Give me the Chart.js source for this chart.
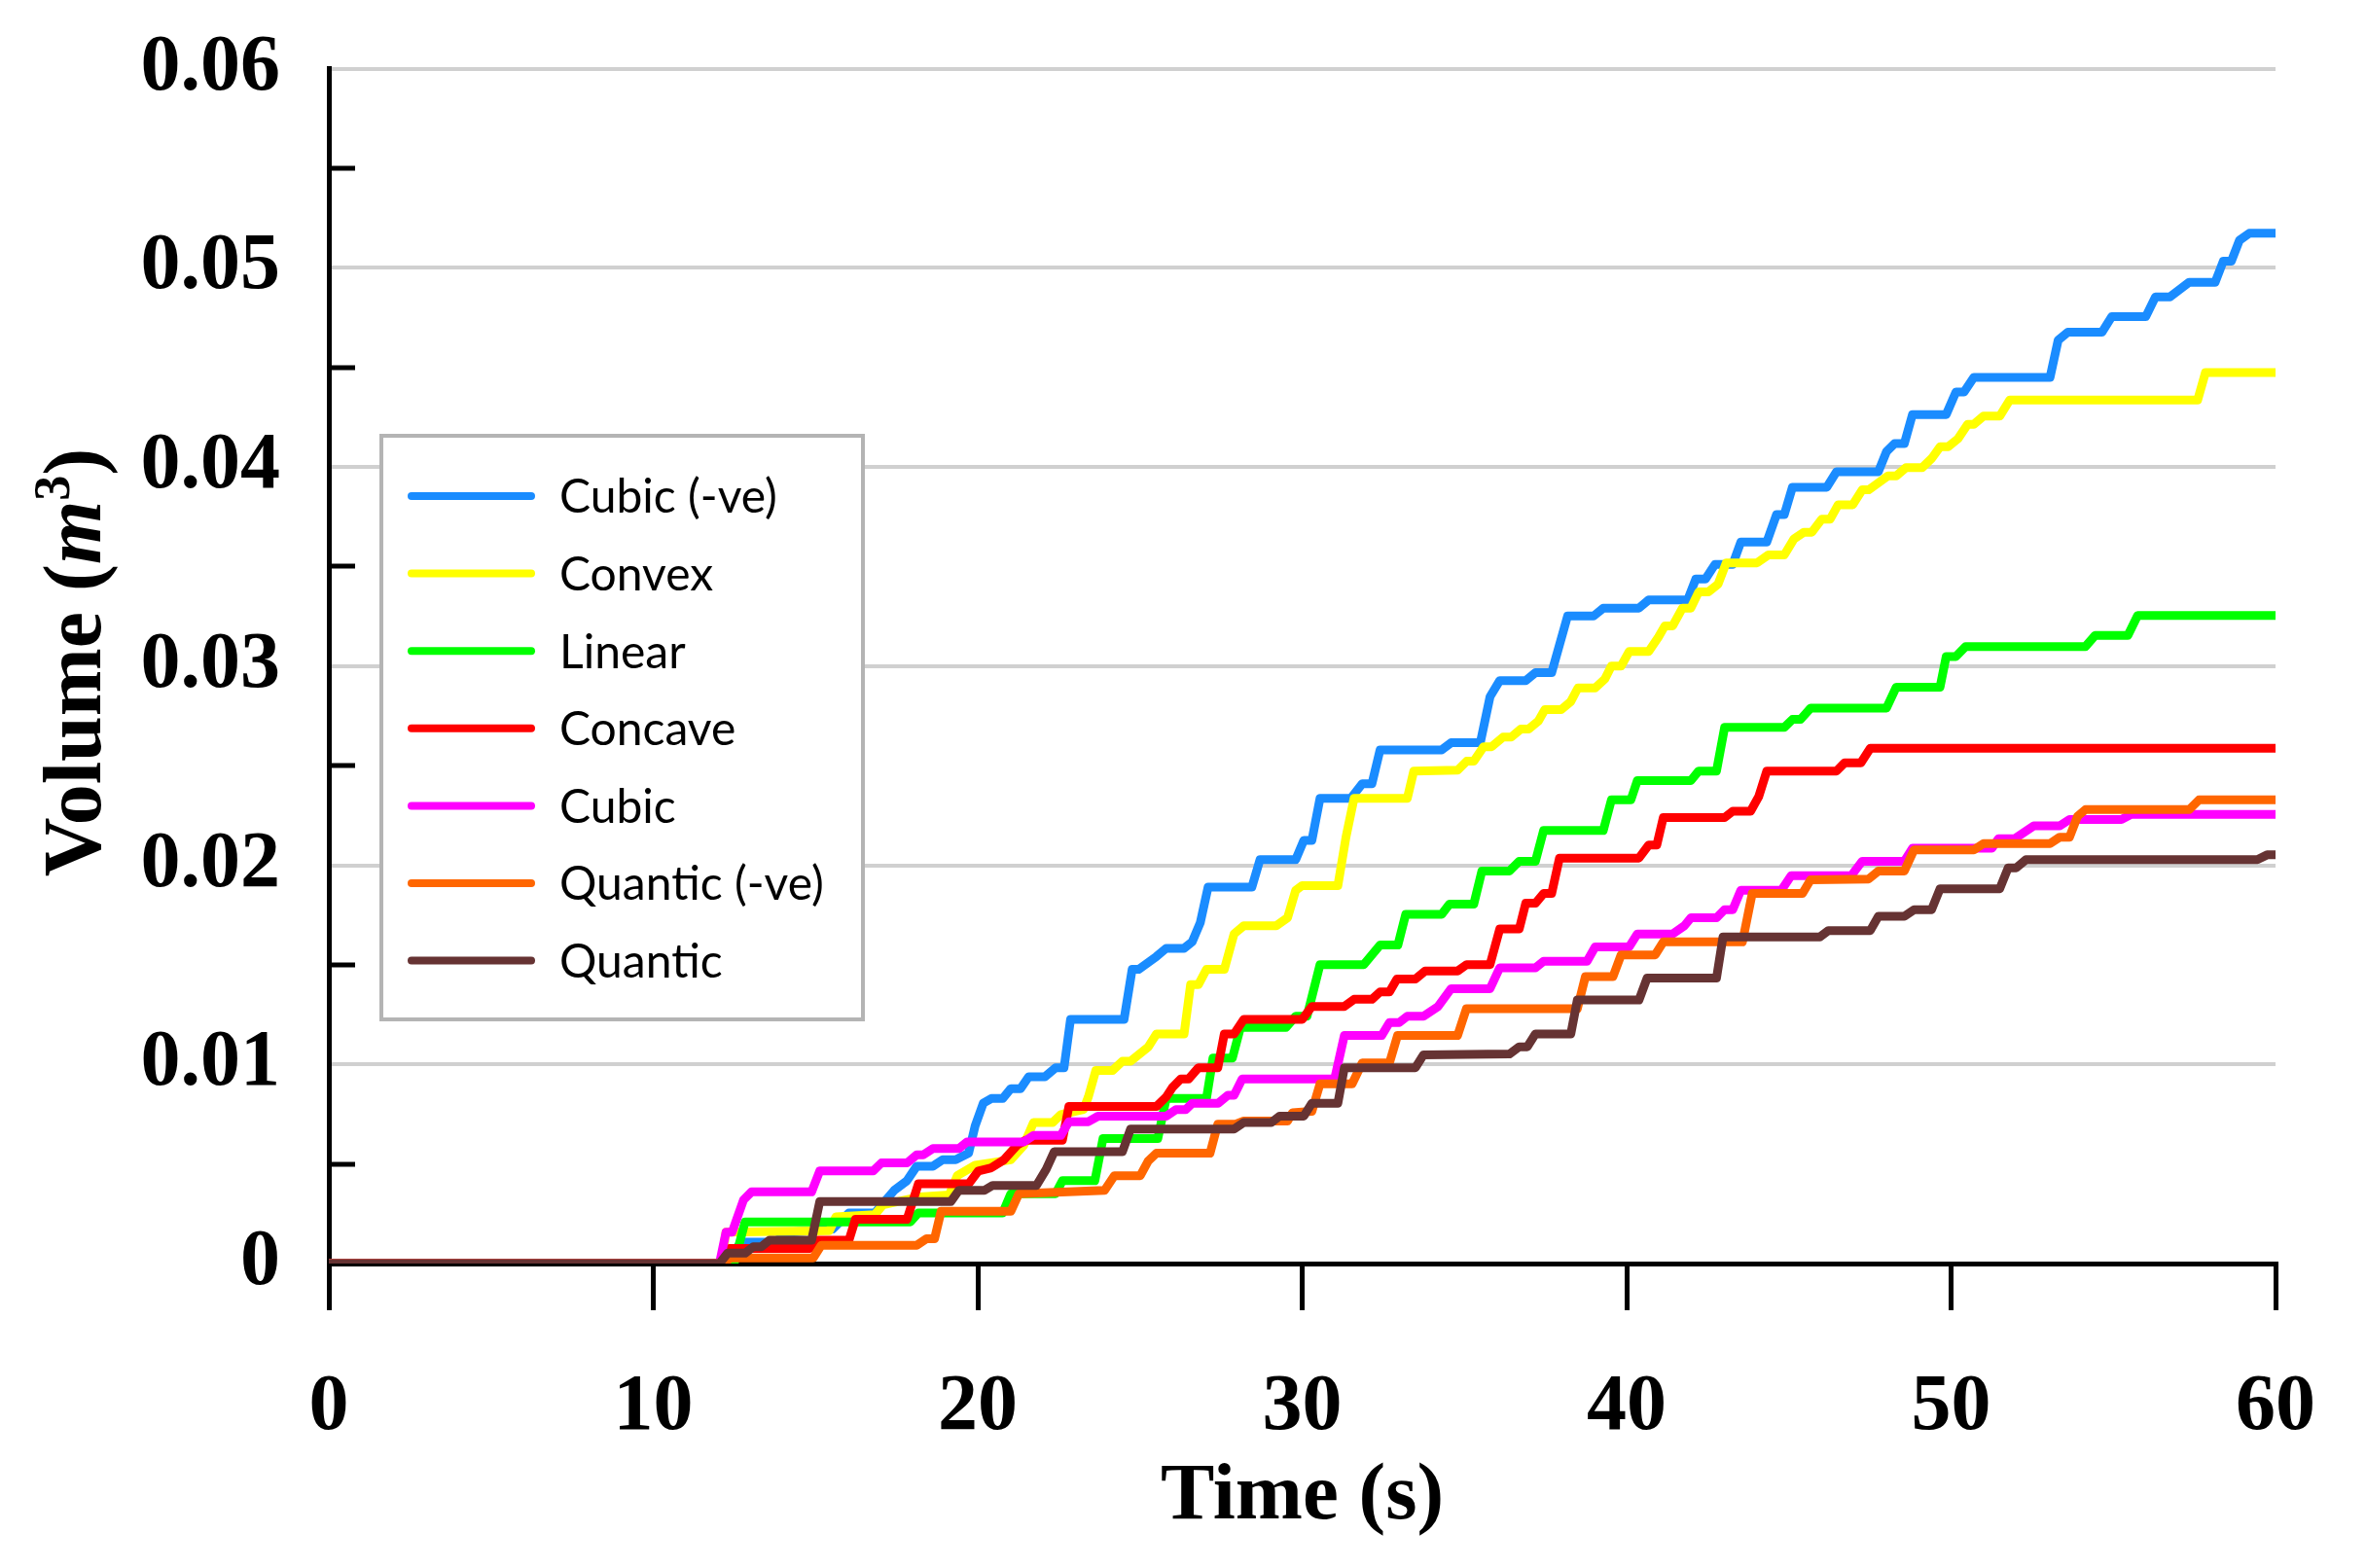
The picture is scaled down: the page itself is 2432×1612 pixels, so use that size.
<!DOCTYPE html>
<html>
<head>
<meta charset="utf-8">
<script src="https://cdn.jsdelivr.net/npm/chart.js@4.4.1/dist/chart.umd.min.js"></script>
<style>
    html, body { margin: 0; padding: 0; background: #ffffff; }
    canvas { display: block; }
</style>
</head>
<body>
<canvas id="volumeChart" width="2432" height="1612"></canvas>
<script>
// series: [time (s), volume (m^3)]
const cubicNeg = [[0,0],[12.09,0],[12.74,0.00108],[13.73,0.00108],[14.23,0.00157],[15.53,0.00173],[16.03,0.00254],[16.83,0.00254],[17.43,0.00368],[17.82,0.00416],[18.12,0.00489],[18.62,0.00489],[18.92,0.00521],[19.32,0.00521],[19.72,0.00554],[19.92,0.00691],[20.17,0.00805],[20.42,0.00829],[20.77,0.00829],[21.02,0.00878],[21.32,0.00878],[21.57,0.00938],[22.07,0.00938],[22.40,0.00983],[22.66,0.00983],[22.86,0.01226],[24.51,0.01226],[24.76,0.01477],[24.96,0.01477],[25.51,0.01542],[25.81,0.01583],[26.36,0.01583],[26.61,0.01615],[26.86,0.01712],[27.10,0.0189],[28.45,0.0189],[28.70,0.02028],[29.80,0.02028],[30.05,0.02125],[30.30,0.02125],[30.55,0.02336],[31.50,0.02336],[31.85,0.02409],[32.15,0.02409],[32.40,0.02579],[34.30,0.02579],[34.59,0.02615],[35.49,0.02615],[35.79,0.02846],[36.09,0.02927],[36.89,0.02927],[37.19,0.02967],[37.69,0.02967],[38.18,0.03251],[38.98,0.03251],[39.28,0.03291],[40.38,0.03291],[40.68,0.03332],[41.88,0.03332],[42.13,0.03437],[42.43,0.03437],[42.72,0.0351],[43.27,0.0351],[43.52,0.03623],[44.32,0.03623],[44.62,0.03761],[44.86,0.03761],[45.11,0.03898],[46.17,0.03898],[46.47,0.03976],[47.76,0.03976],[48.01,0.04077],[48.26,0.04117],[48.56,0.04117],[48.81,0.04263],[49.85,0.04263],[50.15,0.04376],[50.40,0.04376],[50.70,0.04449],[53.05,0.04449],[53.30,0.04636],[53.60,0.04676],[54.65,0.04676],[54.95,0.04754],[56.00,0.04754],[56.30,0.04854],[56.75,0.04854],[57.34,0.04927],[58.14,0.04927],[58.39,0.05033],[58.64,0.05033],[58.89,0.05138],[59.19,0.05173],[60,0.05173]];

const convex = [[0,0],[12.09,0],[12.24,0.00157],[15.43,0.00165],[15.63,0.00235],[16.83,0.00246],[17.08,0.00295],[18.22,0.00335],[19.12,0.00344],[19.37,0.00441],[19.92,0.00494],[21.02,0.00521],[21.42,0.00594],[21.72,0.00708],[22.31,0.00708],[22.56,0.00748],[23.26,0.00773],[23.41,0.00837],[23.64,0.0097],[24.16,0.0097],[24.46,0.01016],[24.71,0.01016],[25.26,0.01088],[25.51,0.01153],[26.36,0.01153],[26.56,0.014],[26.80,0.014],[27.05,0.01477],[27.60,0.01477],[27.90,0.01655],[28.20,0.01696],[29.20,0.01696],[29.55,0.01736],[29.80,0.01874],[30.00,0.01898],[31.10,0.01898],[31.35,0.02141],[31.60,0.02336],[33.24,0.02336],[33.44,0.02473],[34.79,0.02477],[35.07,0.02522],[35.29,0.02522],[35.59,0.02595],[35.84,0.02595],[36.19,0.02643],[36.44,0.02643],[36.74,0.02684],[36.98,0.02684],[37.28,0.02724],[37.48,0.02781],[37.98,0.02781],[38.28,0.02822],[38.50,0.0289],[39.03,0.0289],[39.33,0.02935],[39.53,0.03],[39.83,0.03],[40.08,0.03073],[40.68,0.03073],[40.98,0.03145],[41.18,0.03202],[41.42,0.03202],[41.72,0.03291],[41.98,0.03291],[42.22,0.03372],[42.52,0.03372],[42.82,0.03412],[43.07,0.03518],[44.02,0.03518],[44.37,0.03558],[44.86,0.03558],[45.16,0.03639],[45.46,0.03672],[45.71,0.03672],[46.01,0.03737],[46.27,0.03737],[46.52,0.0381],[46.97,0.0381],[47.26,0.03885],[47.46,0.03885],[48.06,0.03955],[48.31,0.03955],[48.61,0.03996],[49.11,0.03996],[49.41,0.04044],[49.66,0.04101],[49.91,0.04101],[50.21,0.04141],[50.51,0.04214],[50.70,0.04214],[51.00,0.04255],[51.50,0.04255],[51.81,0.04336],[57.60,0.04336],[57.84,0.04474],[60,0.04474]];

const linear = [[0,0],[12.49,0],[12.83,0.00209],[17.92,0.00209],[18.17,0.00254],[20.77,0.00254],[21.02,0.00351],[22.40,0.00351],[22.61,0.00416],[23.61,0.00416],[23.86,0.00627],[25.55,0.00627],[25.81,0.00829],[27.05,0.00829],[27.25,0.01032],[27.85,0.01032],[28.10,0.01186],[29.50,0.01186],[29.80,0.01242],[30.15,0.01242],[30.55,0.01501],[31.90,0.01501],[32.40,0.01599],[32.95,0.01599],[33.19,0.01753],[34.30,0.01753],[34.54,0.01805],[35.29,0.01805],[35.54,0.01971],[36.39,0.01971],[36.69,0.0202],[37.19,0.0202],[37.44,0.02174],[39.28,0.02174],[39.53,0.02328],[40.13,0.02328],[40.33,0.02425],[41.98,0.02425],[42.22,0.02473],[42.77,0.02473],[43.02,0.02692],[44.86,0.02692],[45.11,0.02732],[45.36,0.02732],[45.67,0.02789],[48.01,0.02789],[48.31,0.02894],[49.66,0.02894],[49.85,0.03048],[50.15,0.03048],[50.45,0.03098],[54.14,0.03098],[54.44,0.03154],[55.45,0.03154],[55.75,0.03254],[60,0.03254]];

const concave = [[0,0],[12.14,0],[12.34,0.00076],[14.83,0.00076],[15.08,0.00117],[16.03,0.00117],[16.23,0.00222],[17.82,0.00222],[18.17,0.004],[19.72,0.004],[20.02,0.00465],[20.42,0.00481],[20.81,0.00521],[21.21,0.00594],[21.47,0.00619],[22.61,0.00619],[22.81,0.00789],[25.51,0.00789],[25.81,0.00837],[26.01,0.00886],[26.26,0.00927],[26.50,0.00927],[26.80,0.00983],[27.40,0.00983],[27.60,0.01153],[27.90,0.01153],[28.20,0.01226],[30.00,0.01226],[30.30,0.01291],[31.30,0.01291],[31.60,0.01327],[32.15,0.01327],[32.40,0.01364],[32.69,0.01364],[32.92,0.01429],[33.49,0.01429],[33.79,0.01469],[34.79,0.01469],[35.07,0.01501],[35.79,0.01501],[36.09,0.0168],[36.69,0.0168],[36.89,0.01809],[37.19,0.01809],[37.44,0.01858],[37.69,0.01858],[37.93,0.02036],[40.38,0.02036],[40.68,0.02101],[40.93,0.02101],[41.13,0.02239],[43.02,0.02239],[43.27,0.02271],[43.82,0.02271],[44.07,0.02344],[44.32,0.02473],[46.47,0.02473],[46.72,0.02514],[47.22,0.02514],[47.51,0.02587],[60,0.02587]];

const cubic = [[0,0],[12.04,0],[12.24,0.00157],[12.43,0.00157],[12.78,0.00319],[13.03,0.0036],[14.88,0.0036],[15.13,0.00465],[16.78,0.00465],[17.03,0.00505],[17.82,0.00505],[18.12,0.00546],[18.32,0.00546],[18.62,0.00578],[19.42,0.00578],[19.67,0.00611],[21.42,0.00611],[21.72,0.00643],[22.56,0.00643],[22.81,0.00712],[23.41,0.00712],[23.71,0.0074],[25.81,0.0074],[26.11,0.00773],[26.41,0.00773],[26.61,0.00805],[27.41,0.00805],[27.71,0.00845],[27.90,0.00845],[28.15,0.00927],[31.00,0.00927],[31.30,0.01145],[32.45,0.01145],[32.69,0.0121],[32.99,0.0121],[33.24,0.01242],[33.74,0.01242],[34.19,0.01291],[34.59,0.0138],[35.79,0.0138],[36.09,0.01485],[37.19,0.01485],[37.44,0.01518],[38.78,0.01518],[39.03,0.0159],[40.08,0.0159],[40.33,0.01655],[41.42,0.01655],[41.78,0.01696],[41.98,0.01736],[42.77,0.01736],[43.02,0.01777],[43.27,0.01777],[43.52,0.01874],[44.77,0.01874],[45.07,0.01947],[46.92,0.01947],[47.26,0.0202],[48.56,0.0202],[48.81,0.02085],[51.26,0.02085],[51.46,0.02133],[51.96,0.02133],[52.26,0.02166],[52.55,0.02198],[53.35,0.02198],[53.65,0.0223],[55.25,0.0223],[55.55,0.02255],[60,0.02255]];

const quanticNeg = [[0,0],[12.14,0],[12.39,0.00028],[14.93,0.00028],[15.18,0.00092],[18.12,0.00092],[18.42,0.00125],[18.67,0.00125],[18.87,0.00262],[21.02,0.00262],[21.27,0.00351],[23.91,0.00368],[24.21,0.00441],[25.01,0.00441],[25.25,0.00514],[25.51,0.00554],[27.16,0.00554],[27.40,0.007],[27.95,0.007],[28.20,0.00716],[29.55,0.00716],[29.70,0.00757],[30.30,0.00764],[30.55,0.00902],[31.54,0.00902],[31.85,0.01007],[32.69,0.01007],[32.94,0.01145],[34.79,0.01145],[35.06,0.01279],[38.48,0.01279],[38.73,0.01441],[39.58,0.01441],[39.83,0.0155],[40.88,0.0155],[41.13,0.01615],[43.57,0.01615],[43.87,0.01858],[45.42,0.01858],[45.67,0.01927],[47.46,0.01931],[47.76,0.01971],[48.56,0.01971],[48.86,0.02077],[50.70,0.02077],[51.00,0.02109],[53.05,0.02109],[53.35,0.02141],[53.65,0.02141],[53.90,0.02246],[54.14,0.02279],[57.34,0.02279],[57.64,0.02328],[60,0.02328]];

const quantic = [[0,0],[12.04,0],[12.29,0.00052],[12.83,0.00052],[13.08,0.00084],[13.33,0.00084],[13.58,0.00117],[14.88,0.00117],[15.13,0.00311],[19.17,0.00311],[19.42,0.00368],[20.21,0.00368],[20.46,0.00392],[21.81,0.00392],[22.11,0.00473],[22.36,0.00562],[24.46,0.00562],[24.71,0.00675],[27.90,0.00675],[28.20,0.00708],[29.05,0.00708],[29.30,0.0074],[30.05,0.0074],[30.30,0.00805],[31.10,0.00805],[31.30,0.00983],[33.49,0.00983],[33.74,0.01048],[36.39,0.01052],[36.69,0.01088],[36.94,0.01088],[37.19,0.01153],[38.28,0.01153],[38.48,0.01323],[40.38,0.01323],[40.63,0.01433],[42.77,0.01433],[42.97,0.0164],[45.96,0.0164],[46.22,0.01672],[47.51,0.01672],[47.76,0.01744],[48.56,0.01744],[48.86,0.01777],[49.40,0.01777],[49.66,0.01882],[51.50,0.01882],[51.76,0.01987],[52.01,0.01987],[52.31,0.02028],[59.44,0.02028],[59.74,0.02052],[60,0.02052]];

const seriesNames = ["Cubic (-ve)", "Convex", "Linear", "Concave", "Cubic", "Quantic (-ve)", "Quantic"];
const seriesData = [cubicNeg, convex, linear, concave, cubic, quanticNeg, quantic];
const seriesColors = ["#1a8cff", "#ffff00", "#00ff00", "#ff0000", "#ff00ff", "#ff6600", "#663333"];

const xTicks = [0, 10, 20, 30, 40, 50, 60];
const yMajorTicks = [0, 0.01, 0.02, 0.03, 0.04, 0.05, 0.06];
const yMinorTicks = [0.005, 0.015, 0.025, 0.035, 0.045, 0.055];

const serif = "'Liberation Serif', 'Times New Roman', serif";

function isMajor(value) {
    return yMajorTicks.some(function (t) { return Math.abs(t - value) < 1e-6; });
}

// legend box, inner y ticks and the two axis titles
const decorations = {
    id: "decorations",
    afterDatasetsDraw(chart) {
        const ctx = chart.ctx;
        const area = chart.chartArea;
        const yScale = chart.scales.y;

        // minor tick marks pointing into the plot
        ctx.save();
        ctx.strokeStyle = "#000000";
        ctx.lineWidth = 5;
        yMinorTicks.forEach(function (v) {
            const py = Math.round(yScale.getPixelForValue(v));
            ctx.beginPath();
            ctx.moveTo(area.left, py);
            ctx.lineTo(area.left + 27, py);
            ctx.stroke();
        });
        ctx.restore();

        // legend
        const box = { left: 392, top: 448, right: 887, bottom: 1048 };
        ctx.save();
        ctx.fillStyle = "#ffffff";
        ctx.fillRect(box.left, box.top, box.right - box.left, box.bottom - box.top);
        ctx.strokeStyle = "#b4b4b4";
        ctx.lineWidth = 4;
        ctx.strokeRect(box.left, box.top, box.right - box.left, box.bottom - box.top);
        ctx.font = "48px Lato";
        ctx.textBaseline = "middle";
        ctx.lineCap = "round";
        for (let i = 0; i < seriesNames.length; i++) {
            const ly = 510 + i * 79.6;
            ctx.strokeStyle = seriesColors[i];
            ctx.lineWidth = 8;
            ctx.beginPath();
            ctx.moveTo(423, ly);
            ctx.lineTo(546, ly);
            ctx.stroke();
            ctx.fillStyle = "#000000";
            ctx.fillText(seriesNames[i], 575, ly + 2);
        }
        ctx.restore();

        // x title
        ctx.save();
        ctx.fillStyle = "#000000";
        ctx.font = "bold 83px " + serif;
        ctx.textAlign = "center";
        ctx.textBaseline = "middle";
        ctx.fillText("Time (s)", (area.left + area.right) / 2, 1540);
        ctx.restore();

        // y title, with italic m and superscript 3
        ctx.save();
        ctx.translate(75, 681);
        ctx.rotate(-Math.PI / 2);
        ctx.fillStyle = "#000000";
        ctx.textBaseline = "alphabetic";
        const parts = [
            { text: "Volume (", font: "bold 84px " + serif, dy: 0 },
            { text: "m", font: "italic bold 84px " + serif, dy: 0 },
            { text: "3", font: "bold 52px " + serif, dy: -32 },
            { text: ")", font: "bold 84px " + serif, dy: 0 }
        ];
        let total = 0;
        parts.forEach(function (p) {
            ctx.font = p.font;
            p.w = ctx.measureText(p.text).width;
            total += p.w;
        });
        let cx = -total / 2;
        parts.forEach(function (p) {
            ctx.font = p.font;
            ctx.fillText(p.text, cx, 28 + p.dy);
            cx += p.w;
        });
        ctx.restore();
    }
};

const datasets = seriesNames.map(function (name, i) {
    return {
        label: name,
        data: seriesData[i].map(function (p) { return { x: p[0], y: p[1] }; }),
        borderColor: seriesColors[i],
        backgroundColor: seriesColors[i],
        borderWidth: 9,
        borderCapStyle: "round",
        borderJoinStyle: "round",
        showLine: true,
        pointRadius: 0,
        tension: 0,
        // later series sit on top, like the original
        order: seriesNames.length - 1 - i
    };
});

new Chart(document.getElementById("volumeChart"), {
    type: "scatter",
    data: { datasets: datasets },
    options: {
        responsive: false,
        animation: false,
        devicePixelRatio: 1,
        layout: {
            padding: { top: 64, right: 86, bottom: 0, left: 0 }
        },
        plugins: {
            legend: { display: false },
            tooltip: { enabled: false }
        },
        scales: {
            x: {
                type: "linear",
                min: 0,
                max: 60,
                afterBuildTicks: function (scale) {
                    scale.ticks = xTicks.map(function (v) { return { value: v }; });
                },
                afterFit: function (scale) {
                    scale.height = 313;
                },
                ticks: {
                    color: "#000000",
                    font: { family: serif, weight: "bold", size: 82 },
                    padding: 52,
                    maxRotation: 0,
                    autoSkip: false
                },
                grid: {
                    drawOnChartArea: false,
                    drawTicks: true,
                    tickLength: 48,
                    color: "#000000",
                    lineWidth: 5
                },
                border: { color: "#000000", width: 5 }
            },
            y: {
                type: "linear",
                min: 0,
                max: 0.06,
                afterBuildTicks: function (scale) {
                    scale.ticks = yMajorTicks.map(function (v) { return { value: v }; });
                },
                afterFit: function (scale) {
                    scale.width = 338;
                },
                ticks: {
                    color: "#000000",
                    font: { family: serif, weight: "bold", size: 82, lineHeight: 0.5 },
                    padding: 50,
                    autoSkip: false,
                    callback: function (value) {
                        if (!isMajor(value)) {
                            return "";
                        }
                        return value === 0 ? "0" : value.toFixed(2);
                    }
                },
                grid: {
                    drawTicks: false,
                    lineWidth: 4,
                    color: function (context) {
                        const v = context.tick ? context.tick.value : 0;
                        return v > 0.001 ? "#d0d0d0" : "rgba(0,0,0,0)";
                    }
                },
                border: { color: "#000000", width: 5 }
            }
        }
    },
    plugins: [decorations]
});
</script>
</body>
</html>
